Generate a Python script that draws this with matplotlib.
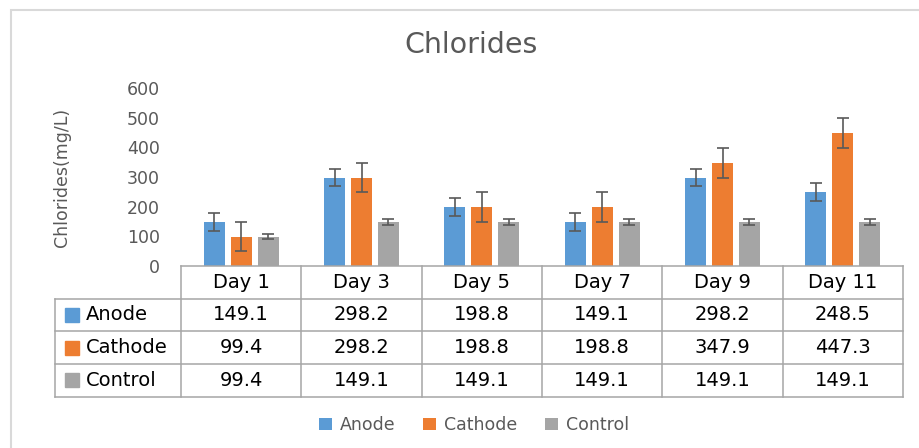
import matplotlib
matplotlib.use('Agg')
import matplotlib.pyplot as plt
from matplotlib.patches import Rectangle
import numpy as np

days = ['Day 1', 'Day 3', 'Day 5', 'Day 7', 'Day 9', 'Day 11']
series_names = ['Anode', 'Cathode', 'Control']
anode = [149.1, 298.2, 198.8, 149.1, 298.2, 248.5]
cathode = [99.4, 298.2, 198.8, 198.8, 347.9, 447.3]
control = [99.4, 149.1, 149.1, 149.1, 149.1, 149.1]
anode_err = [30, 30, 30, 30, 30, 30]
cathode_err = [50, 50, 50, 50, 50, 50]
control_err = [10, 10, 10, 10, 10, 10]
yticks = [0, 100, 200, 300, 400, 500, 600]
colors = ['#5B9BD5', '#ED7D31', '#A5A5A5']

W, H = 919, 448
fig = plt.figure(figsize=(W / 100, H / 100), dpi=100)
plt.rcParams['font.family'] = ['DejaVu Sans']


def px(x0, y0, x1, y1):
    return [x0 / W, 1 - y1 / H, (x1 - x0) / W, (y1 - y0) / H]


# chart border
fig.patches.append(Rectangle((11 / W, -0.1), 1.2, 1 - 10 / H + 0.1,
                             transform=fig.transFigure, fill=False,
                             edgecolor='#D9D9D9', lw=1.5))

ax = fig.add_axes(px(181, 88, 903, 266))
x = np.arange(len(days))
offs = [-0.224, 0.0, 0.224]
bw = 0.175
data = [anode, cathode, control]
errs = [anode_err, cathode_err, control_err]
handles = []
for vals, err, col, off, name in zip(data, errs, colors, offs, series_names):
    b = ax.bar(x + off, vals, bw, color=col, label=name, yerr=err, zorder=2,
               error_kw=dict(ecolor='#595959', elinewidth=1.2, capsize=4, capthick=1.2))
    handles.append(b)
ax.set_xlim(-0.5, len(days) - 0.5)
ax.set_ylim(0, 600)
ax.set_yticks(yticks)
ax.tick_params(axis='y', length=0, pad=15, labelsize=12.5, labelcolor='#595959')
ax.set_xticks([])
for s in ax.spines.values():
    s.set_visible(False)
ax.set_ylabel('Chlorides(mg/L)', fontsize=12.5, color='#595959')
ax.yaxis.set_label_coords(-0.153, 0.5)

# data table
tab = fig.add_axes(px(181, 266, 903, 396.5))
tab.set_xlim(-0.5, len(days) - 0.5)
tab.set_ylim(4, 0)
tab.axis('off')
lc = '#A6A6A6'
lw = 1.1
xl = (55 - 181) / 120.33 - 0.5
tab.plot([-0.5, len(days) - 0.5], [0, 0], color=lc, lw=lw, clip_on=False)
for r in [1, 2, 3, 4]:
    tab.plot([xl, len(days) - 0.5], [r, r], color=lc, lw=lw, clip_on=False)
for i in range(len(days) + 1):
    tab.plot([i - 0.5, i - 0.5], [0, 4], color=lc, lw=lw, clip_on=False)
tab.plot([xl, xl], [1, 4], color=lc, lw=lw, clip_on=False)
for i, d in enumerate(days):
    tab.text(i, 0.5, d, ha='center', va='center', fontsize=14, color='black')
kx0 = (65 - 181) / 120.33 - 0.5
kw = 14 / 120.33
kh = 14 / 32.6
tx = (86 - 181) / 120.33 - 0.5
for r, (name, vals, col) in enumerate(zip(series_names, data, colors)):
    yc = r + 1.5
    tab.add_patch(Rectangle((kx0, yc - kh / 2), kw, kh, color=col, clip_on=False))
    tab.text(tx, yc, name, ha='left', va='center', fontsize=14, color='black', clip_on=False)
    for i, v in enumerate(vals):
        tab.text(i, yc, f'{v:.1f}', ha='center', va='center', fontsize=14, color='black')

fig.legend(handles=[h.patches[0] for h in handles], labels=series_names,
           loc='center', bbox_to_anchor=(474 / W, 1 - 425 / H), ncol=3,
           frameon=False, fontsize=12.5, handlelength=0.75, handleheight=0.75,
           handletextpad=0.45, columnspacing=1.6, labelcolor='#595959')

fig.text(471 / W, 1 - 45 / H, 'Chlorides', fontsize=20.5, color='#595959',
         ha='center', va='center')

fig.savefig('out.png', dpi=100)
